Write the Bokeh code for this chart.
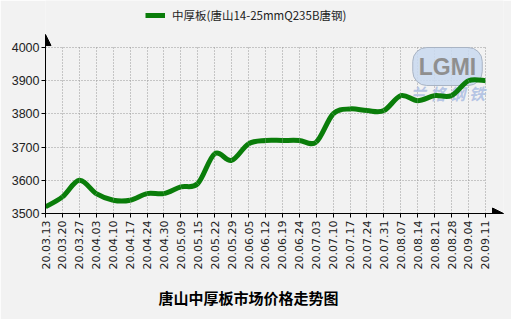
import numpy as np
from bokeh.plotting import figure
from bokeh.models import Range1d, FixedTicker, Legend, LegendItem, Title, Label, Arrow, NormalHead
from bokeh.embed import file_html
from bokeh.resources import INLINE

dates = ["20.03.13", "20.03.20", "20.03.27", "20.04.03", "20.04.10", "20.04.17",
         "20.04.24", "20.04.30", "20.05.09", "20.05.15", "20.05.22", "20.05.29",
         "20.06.05", "20.06.12", "20.06.19", "20.06.24", "20.07.03", "20.07.10",
         "20.07.17", "20.07.24", "20.07.31", "20.08.07", "20.08.14", "20.08.21",
         "20.08.28", "20.09.04", "20.09.11"]
prices = [3520, 3550, 3600, 3560, 3540, 3540, 3560, 3560, 3580, 3590, 3680, 3660,
          3710, 3720, 3720, 3720, 3715, 3800, 3815, 3810, 3810, 3855, 3840, 3855,
          3855, 3900, 3900]
y_ticks = [3500, 3600, 3700, 3800, 3900, 4000]
series_name = "中厚板(唐山14-25mmQ235B唐钢)"
chart_title = "唐山中厚板市场价格走势图"

BG = "#f2f2f2"
GREEN = "#0a7d0a"

x = np.arange(len(dates), dtype=float)
y = np.array(prices, dtype=float)
n = len(x)
qx = np.concatenate([[x[0]], x, [x[-1]]])
qy = np.concatenate([[y[0]], y, [y[-1]]])
x0, y0 = qx[1:n], qy[1:n]
x1, y1 = qx[2:n + 1], qy[2:n + 1]
cx0 = x0 + (qx[2:n + 1] - qx[0:n - 1]) / 6.0
cy0 = y0 + (qy[2:n + 1] - qy[0:n - 1]) / 6.0
cx1 = x1 - (qx[3:n + 2] - qx[1:n]) / 6.0
cy1 = y1 - (qy[3:n + 2] - qy[1:n]) / 6.0

Y_TOP = 4039      # top of the y axis (arrow tip)
X_END = 27.07     # end of the x axis (arrow tip)

p = figure(width=511, height=319, output_backend="svg", toolbar_location=None,
           x_range=Range1d(0, X_END), y_range=Range1d(3500, 4141.6),
           min_border_left=45, min_border_right=8, min_border_top=0,
           min_border_bottom=106)
p.background_fill_color = BG
p.border_fill_color = BG
p.outline_line_color = None

# watermark logo (drawn under the line)
p.add_layout(Label(x=402, y=147, x_units="screen", y_units="screen", text="LGMI",
                   text_align="center", text_baseline="middle",
                   text_font="Liberation Sans", text_font_style="bold",
                   text_font_size="23px", text_color="#8f8f8f",
                   background_fill_color="#c9d9f0", background_fill_alpha=0.85,
                   border_line_color="#a9b4c4", border_line_width=1,
                   border_radius=14, padding=6, level="underlay"))
p.add_layout(Label(x=402, y=121, x_units="screen", y_units="screen", text="兰 格 钢 铁",
                   text_align="center", text_baseline="middle",
                   text_font="Noto Sans CJK SC", text_font_size="16px",
                   text_font_style="bold italic",
                   text_color="#aebfe2", text_alpha=0.9, level="underlay"))

r = p.bezier(x0=x0, y0=y0, x1=x1, y1=y1, cx0=cx0, cy0=cy0, cx1=cx1, cy1=cy1,
             line_color=GREEN, line_width=5)

# axes
p.xaxis.ticker = FixedTicker(ticks=list(range(n)))
p.xaxis.major_label_overrides = {i: d for i, d in enumerate(dates)}
p.xaxis.major_label_orientation = np.pi / 2
p.xaxis.major_label_text_font = "DejaVu Sans"
p.xaxis.major_label_text_font_size = "11px"
p.xaxis.major_label_text_color = "#222222"
p.xaxis.minor_tick_line_color = None
p.xaxis.major_tick_in = 0
p.xaxis.major_tick_out = 4
p.xaxis.axis_line_color = "black"
p.xaxis.major_label_standoff = 3

p.yaxis.ticker = FixedTicker(ticks=y_ticks)
p.yaxis.bounds = (3500, Y_TOP)
p.yaxis.major_label_text_font = "Liberation Sans"
p.yaxis.major_label_text_font_size = "12.5px"
p.yaxis.major_label_text_color = "#222222"
p.yaxis.minor_tick_line_color = None
p.yaxis.major_tick_in = 0
p.yaxis.major_tick_out = 4
p.yaxis.axis_line_color = "black"
p.yaxis.major_label_standoff = 2

p.grid.grid_line_color = "#999999"
p.grid.grid_line_dash = "1 2"
p.grid.grid_line_width = 1
p.xgrid.cross_bounds = (3500, 4000)
p.ygrid.cross_bounds = (0, n - 1)

# axis arrows
p.add_layout(Arrow(end=NormalHead(size=11, fill_color="black", line_color="black"),
                   x_start=0, y_start=3500, x_end=0, y_end=Y_TOP,
                   line_color="black", line_width=1))
p.add_layout(Arrow(end=NormalHead(size=11, fill_color="black", line_color="black"),
                   x_start=0, y_start=3500, x_end=X_END, y_end=3500,
                   line_color="black", line_width=1))

legend = Legend(items=[LegendItem(label=series_name, renderers=[r])],
                location=(100, 190), background_fill_alpha=0, border_line_color=None,
                padding=0, margin=0, glyph_width=20, glyph_height=14, label_standoff=7,
                label_text_font="Noto Sans CJK SC", label_text_font_size="11.5px",
                label_text_color="#222222")
p.add_layout(legend)

p.add_layout(Title(text=chart_title, align="left", offset=113,
                   text_font="Noto Sans CJK SC", text_font_size="15px",
                   text_font_style="bold", text_color="black", standoff=24), "below")

open("out.html", "w").write(file_html(p, INLINE))
